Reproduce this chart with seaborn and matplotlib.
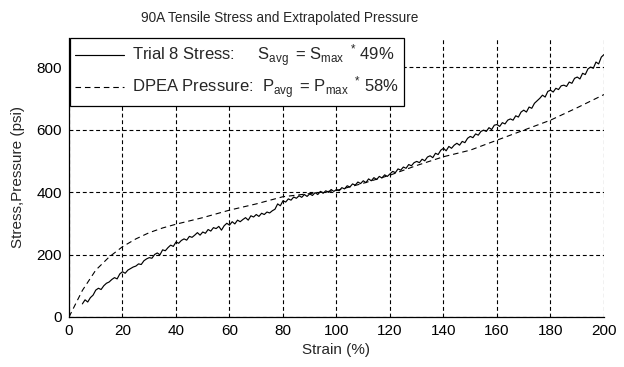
import numpy as np
import pandas as pd
import matplotlib
matplotlib.use("Agg")
import matplotlib.pyplot as plt
import seaborn as sns

# ---- data ----
stress_strain = list(range(5, 201))
stress_vals = [42, 55, 48, 62, 70, 86, 92, 88, 100, 108, 112, 120, 126, 122, 138, 145, 140, 150, 155, 160,
               163, 170, 168, 180, 186, 190, 188, 200, 205, 199, 215, 212, 222, 230, 226, 240, 236, 245, 250, 246,
               258, 255, 262, 270, 262, 272, 268, 280, 275, 286, 283, 290, 278, 292, 300, 294, 305, 298, 310, 305,
               312, 318, 310, 324, 320, 328, 322, 332, 328, 336, 333, 340, 345, 362, 356, 372, 368, 378, 374, 384,
               380, 388, 383, 392, 386, 394, 389, 398, 392, 402, 396, 404, 399, 408, 402, 408, 404, 414, 410, 420,
               416, 426, 422, 432, 427, 436, 430, 442, 436, 446, 440, 450, 445, 455, 450, 458, 466, 462, 474, 470,
               480, 476, 488, 484, 494, 498, 494, 505, 500, 512, 516, 510, 524, 520, 534, 540, 532, 546, 540, 550,
               556, 550, 562, 558, 572, 578, 574, 586, 582, 594, 598, 594, 606, 600, 614, 616, 610, 622, 618, 630,
               634, 630, 644, 640, 656, 662, 656, 672, 668, 684, 692, 700, 710, 704, 722, 726, 720, 732, 728, 740,
               742, 738, 752, 748, 764, 768, 762, 780, 776, 794, 800, 796, 816, 810, 832, 840]

pressure_strain = [0, 5, 10, 15, 20, 25, 30, 35, 40, 50, 60, 70, 80, 90, 100, 110, 120, 130, 140, 150,
                   160, 170, 180, 190, 200]
pressure_vals = [0, 85, 150, 192, 225, 250, 270, 285, 297, 318, 342, 362, 385, 395, 405, 428, 454, 485, 513, 534,
                 566, 598, 630, 670, 712]

x_ticks = [0, 20, 40, 60, 80, 100, 120, 140, 160, 180, 200]
y_ticks = [0, 200, 400, 600, 800]

title = "90A Tensile Stress and Extrapolated Pressure"
xlabel = "Strain (%)"
ylabel = "Stress,Pressure (psi)"
label_stress = r"Trial 8 Stress:     S$_{\mathrm{avg}}$ $\,$= S$_{\mathrm{max}}$ $\,^{*}$ 49%"
label_pressure = r"DPEA Pressure:  P$_{\mathrm{avg}}$ $\,$= P$_{\mathrm{max}}$ $\,^{*}$ 58%"

sns.set_style("white")
plt.rcParams['font.family'] = ['Liberation Sans', 'DejaVu Sans']
plt.rcParams['mathtext.fontset'] = 'custom'
plt.rcParams['mathtext.rm'] = 'Liberation Sans'
plt.rcParams['mathtext.it'] = 'Liberation Sans'

df_s = pd.DataFrame({"strain": stress_strain, "val": stress_vals})
df_p = pd.DataFrame({"strain": pressure_strain, "val": pressure_vals})

fig = plt.figure(figsize=(6.24, 3.67), dpi=100)
fig.patch.set_facecolor("white")
ax = fig.add_axes([69/624, 1-317/367, (604-69)/624, (317-38)/367])

sns.lineplot(data=df_s, x="strain", y="val", ax=ax, color="black", lw=0.85, label=label_stress)
sns.lineplot(data=df_p, x="strain", y="val", ax=ax, color="black", lw=0.8, label=label_pressure)
ax.lines[1].set_dashes((5, 3.5))

ax.set_xlim(0, 200)
ax.set_ylim(0, 893)
ax.set_xticks(x_ticks)
ax.set_yticks(y_ticks)
ax.grid(True, color="black", linestyle=(0, (3.5, 2.5)), lw=0.8)
sns.despine(ax=ax)
for s in ax.spines.values():
    s.set_color("black")
    s.set_linewidth(0.9)
ax.tick_params(direction="in", length=4, width=0.8, labelsize=11, colors="black", pad=5)
ax.set_xlabel(xlabel, fontsize=11)
ax.set_ylabel(ylabel, fontsize=11)
ax.xaxis.set_label_coords(0.5, (317-343)/279)
ax.yaxis.set_label_coords((25-69)/535, 0.5)
fig.text(280/624, 1-18/367, title, ha="center", va="center", fontsize=9.8)

leg = ax.legend(loc="upper left", bbox_to_anchor=(0.002, 1), borderaxespad=0, fancybox=False,
                framealpha=1, edgecolor="black", fontsize=12, handlelength=2.95, handletextpad=0.45,
                labelspacing=0.3, borderpad=0.3)
leg.get_frame().set_linewidth(0.9)

fig.savefig("out.png", dpi=100, facecolor="white")
